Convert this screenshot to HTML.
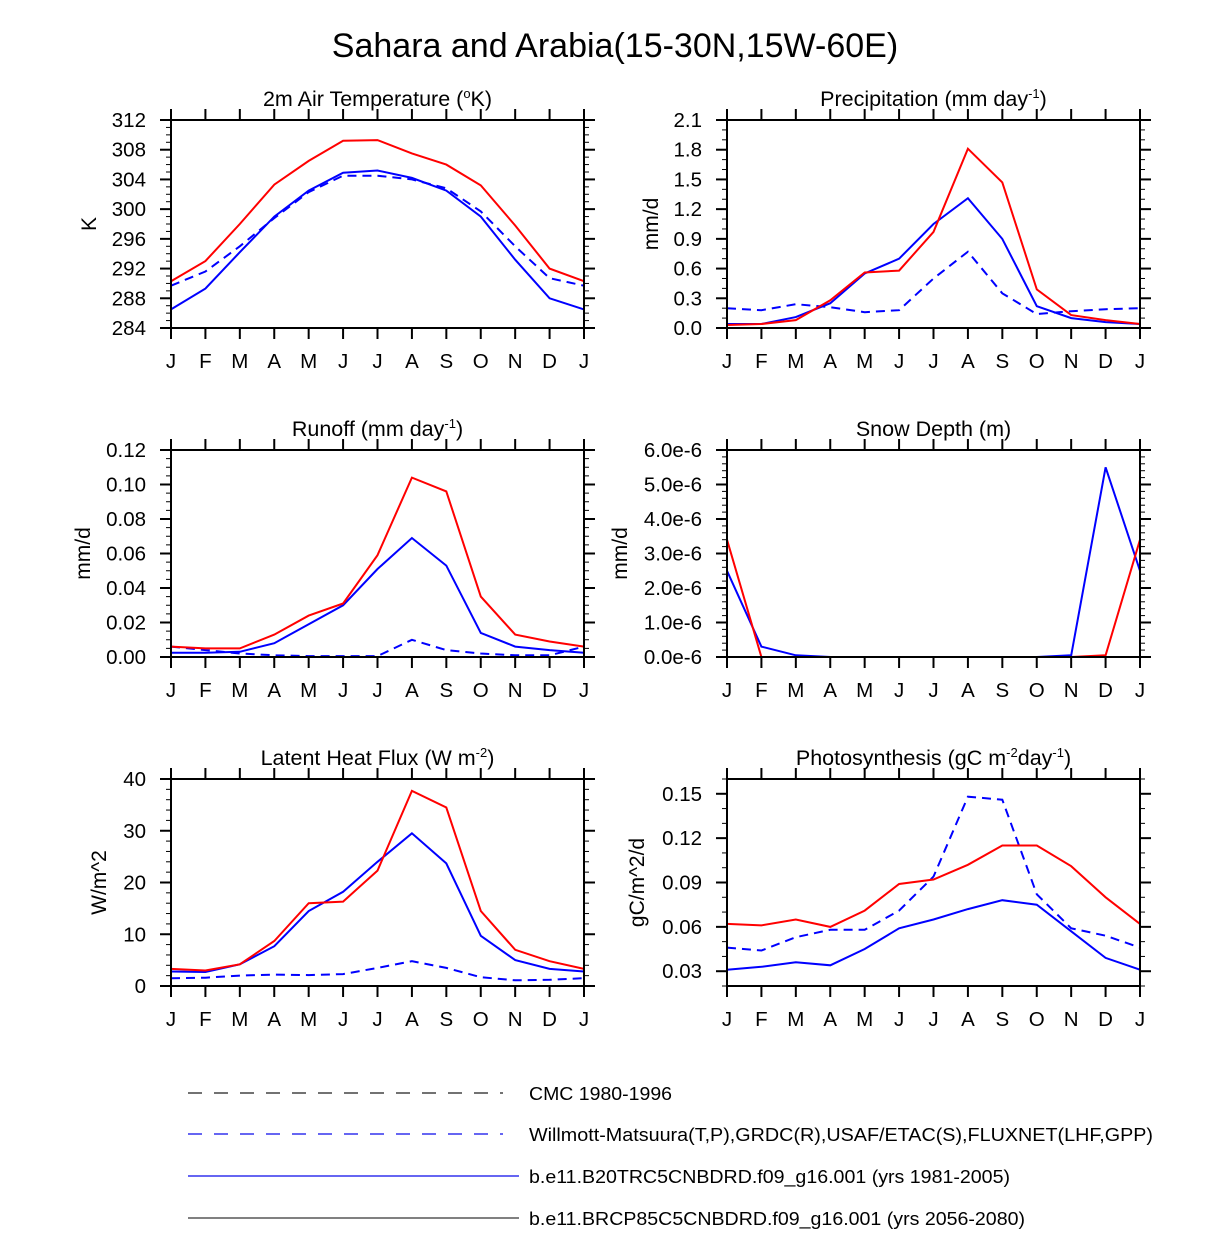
<!DOCTYPE html>
<html><head><meta charset="utf-8">
<style>
html,body{margin:0;padding:0;background:#fff;}
svg{display:block;font-family:"Liberation Sans",Arial,sans-serif;}
</style></head>
<body>
<svg id="chart" width="1224" height="1250" viewBox="0 0 1224 1250" xmlns="http://www.w3.org/2000/svg">
<text x="615" y="57" font-size="34" text-anchor="middle">Sahara and Arabia(15-30N,15W-60E)</text>
<g id="panels"></g>
<g id="legend">
  <line x1="188" y1="1093" x2="503" y2="1093" stroke="#444" stroke-width="1.5" stroke-dasharray="14,12"/>
  <text x="529" y="1100" font-size="18" textLength="143" lengthAdjust="spacingAndGlyphs">CMC 1980-1996</text>
  <line x1="188" y1="1134" x2="503" y2="1134" stroke="#3333ee" stroke-width="1.5" stroke-dasharray="14,12"/>
  <text x="529" y="1141" font-size="18" textLength="624" lengthAdjust="spacingAndGlyphs">Willmott-Matsuura(T,P),GRDC(R),USAF/ETAC(S),FLUXNET(LHF,GPP)</text>
  <line x1="188" y1="1176" x2="519" y2="1176" stroke="#3333ee" stroke-width="1.5"/>
  <text x="529" y="1183" font-size="18" textLength="481" lengthAdjust="spacingAndGlyphs">b.e11.B20TRC5CNBDRD.f09_g16.001 (yrs 1981-2005)</text>
  <line x1="188" y1="1218" x2="519" y2="1218" stroke="#000" stroke-width="1"/>
  <text x="529" y="1225" font-size="18" textLength="496" lengthAdjust="spacingAndGlyphs">b.e11.BRCP85C5CNBDRD.f09_g16.001 (yrs 2056-2080)</text>
</g>
</svg>
<script>
const months = ["J","F","M","A","M","J","J","A","S","O","N","D","J"];

const tempRcp = [290.3,293,298,303.3,306.5,309.2,309.3,307.5,306,303.2,297.8,292,290.3];
const tempHist = [286.5,289.3,294.2,299,302.5,304.9,305.2,304.2,302.5,299,293.2,288,286.5];
const tempObs = [289.7,291.6,295,298.8,302.3,304.5,304.5,304,302.8,299.7,295,290.7,289.7];
const tempTicks = ["284","288","292","296","300","304","308","312"];

const precRcp = [0.03,0.04,0.08,0.28,0.56,0.58,0.97,1.81,1.47,0.39,0.13,0.08,0.04];
const precHist = [0.04,0.04,0.11,0.25,0.55,0.70,1.05,1.31,0.90,0.22,0.10,0.06,0.04];
const precObs = [0.20,0.18,0.24,0.21,0.16,0.18,0.50,0.77,0.35,0.14,0.17,0.19,0.20];
const precTicks = ["0.0","0.3","0.6","0.9","1.2","1.5","1.8","2.1"];

const runRcp = [0.006,0.005,0.005,0.013,0.024,0.031,0.059,0.104,0.096,0.035,0.013,0.009,0.006];
const runHist = [0.0025,0.0025,0.003,0.008,0.019,0.030,0.051,0.069,0.053,0.014,0.006,0.004,0.0025];
const runObs = [0.006,0.004,0.002,0.001,0.0005,0.0005,0.0005,0.010,0.004,0.002,0.001,0.001,0.006];
const runTicks = ["0.00","0.02","0.04","0.06","0.08","0.10","0.12"];

const snowRcp = [3.4,0,0,0,0,0,0,0,0,0,0,0.05,3.4];
const snowHist = [2.5,0.3,0.05,0,0,0,0,0,0,0,0.05,5.5,2.5];
const snowObs = [0,0,0,0,0,0,0,0,0,0,0,0,0];
const snowTicks = ["0.0e-6","1.0e-6","2.0e-6","3.0e-6","4.0e-6","5.0e-6","6.0e-6"];

const lhfRcp = [3.3,3.0,4.2,8.7,16,16.3,22.3,37.7,34.5,14.5,7,4.8,3.3];
const lhfHist = [2.8,2.7,4.2,7.7,14.5,18.2,24,29.5,23.7,9.7,5,3.3,2.8];
const lhfObs = [1.5,1.6,2.0,2.2,2.1,2.3,3.5,4.8,3.5,1.7,1.1,1.2,1.5];
const lhfTicks = ["0","10","20","30","40"];

const gppRcp = [0.062,0.061,0.065,0.060,0.071,0.089,0.092,0.102,0.115,0.115,0.101,0.080,0.062];
const gppHist = [0.031,0.033,0.036,0.034,0.045,0.059,0.065,0.072,0.078,0.075,0.057,0.039,0.031];
const gppObs = [0.046,0.044,0.053,0.058,0.058,0.071,0.094,0.148,0.146,0.082,0.059,0.054,0.046];
const gppTicks = ["0.03","0.06","0.09","0.12","0.15"];

const NS = "http://www.w3.org/2000/svg";
const root = document.getElementById("panels");
function mk(tag, attrs, parent){
  const e = document.createElementNS(NS, tag);
  for (const k in attrs) e.setAttribute(k, attrs[k]);
  parent.appendChild(e);
  return e;
}

function panel(cfg){
  const g = mk("g", {}, root);
  
  
  const {x0,x1,y0,y1,min,max} = cfg;
  const xs = i => x0 + (x1-x0)*i/12;
  const ys = v => y1 - (v-min)/(max-min)*(y1-y0);
  for (let v=min; v<=max+1e-9; v+=cfg.minor){
    const y = ys(v);
    mk("line",{x1:x0-5,y1:y,x2:x0,y2:y,stroke:"#000","stroke-width":1},g);
    mk("line",{x1:x1,y1:y,x2:x1+5,y2:y,stroke:"#000","stroke-width":1},g);
  }
  cfg.ticks.forEach((t,i)=>{
    const v = cfg.tickStart + i*cfg.major;
    const y = ys(v);
    mk("line",{x1:x0-11,y1:y,x2:x0,y2:y,stroke:"#000","stroke-width":2},g);
    mk("line",{x1:x1,y1:y,x2:x1+11,y2:y,stroke:"#000","stroke-width":2},g);
    const tx = mk("text",{x:x0-25,y:y+7,"font-size":20.5,"text-anchor":"end"},g);
    tx.textContent = t;
    
    
  });
  months.forEach((m,i)=>{
    const x = xs(i);
    mk("line",{x1:x,y1:y0-11,x2:x,y2:y0,stroke:"#000","stroke-width":2},g);
    mk("line",{x1:x,y1:y1,x2:x,y2:y1+11,stroke:"#000","stroke-width":2},g);
    const tx = mk("text",{x:x,y:y1+40,"font-size":20.5,"text-anchor":"middle"},g);
    tx.textContent = m;
    
    
  });
  const series = [
    [cfg.obs,"#0000ff","9,6","obs"],
    [cfg.hist,"#0000ff","","hist"],
    [cfg.rcp,"#ff0000","","rcp"]
  ];
  series.forEach(([arr,col,dash,nm])=>{
    const pts = arr.map((v,i)=>xs(i).toFixed(1)+","+ys(v).toFixed(1)).join(" ");
    const p = mk("polyline",{points:pts,fill:"none",stroke:col,"stroke-width":2,"stroke-dasharray":dash||"none","stroke-linejoin":"miter"},g);
    
    
  });
  mk("rect",{x:x0,y:y0,width:x1-x0,height:y1-y0,fill:"none",stroke:"#000","stroke-width":2},g);
  const title = mk("text",{x:(x0+x1)/2,y:y0-14,"font-size":21.5,"text-anchor":"middle"},g);
  title.innerHTML = cfg.title;
  
  
  const yl = mk("text",{x:0,y:0,"font-size":21,"text-anchor":"middle",transform:`translate(${cfg.ylx},${(y0+y1)/2}) rotate(-90)`},g);
  yl.textContent = cfg.ylabel;
  
  
}

const L=[171,584], R=[727,1140];
panel({name:"panel-temperature",x0:L[0],x1:L[1],y0:120,y1:328,min:284,max:312,major:4,minor:1,tickStart:284,ticks:tempTicks,
  rcp:tempRcp,hist:tempHist,obs:tempObs,title:'2m Air Temperature (<tspan dy="-8" font-size="13">o</tspan><tspan dy="8">K)</tspan>',ylabel:"K",ylx:96});
panel({name:"panel-precipitation",x0:R[0],x1:R[1],y0:120,y1:328,min:0,max:2.1,major:0.3,minor:0.1,tickStart:0,ticks:precTicks,
  rcp:precRcp,hist:precHist,obs:precObs,title:'Precipitation (mm day<tspan dy="-8" font-size="13">-1</tspan><tspan dy="8">)</tspan>',ylabel:"mm/d",ylx:658});
panel({name:"panel-runoff",x0:L[0],x1:L[1],y0:450,y1:657,min:0,max:0.12,major:0.02,minor:0.005,tickStart:0,ticks:runTicks,
  rcp:runRcp,hist:runHist,obs:runObs,title:'Runoff (mm day<tspan dy="-8" font-size="13">-1</tspan><tspan dy="8">)</tspan>',ylabel:"mm/d",ylx:90});
panel({name:"panel-snow-depth",x0:R[0],x1:R[1],y0:450,y1:657,min:0,max:6,major:1,minor:0.2,tickStart:0,ticks:snowTicks,
  rcp:snowRcp,hist:snowHist,obs:snowObs,title:'Snow Depth (m)',ylabel:"mm/d",ylx:627});
panel({name:"panel-latent-heat",x0:L[0],x1:L[1],y0:779,y1:986,min:0,max:40,major:10,minor:2,tickStart:0,ticks:lhfTicks,
  rcp:lhfRcp,hist:lhfHist,obs:lhfObs,title:'Latent Heat Flux (W m<tspan dy="-8" font-size="13">-2</tspan><tspan dy="8">)</tspan>',ylabel:"W/m^2",ylx:106});
panel({name:"panel-photosynthesis",x0:R[0],x1:R[1],y0:779,y1:986,min:0.02,max:0.16,major:0.03,minor:0.01,tickStart:0.03,ticks:gppTicks,
  rcp:gppRcp,hist:gppHist,obs:gppObs,title:'Photosynthesis (gC m<tspan dy="-8" font-size="13">-2</tspan><tspan dy="8">day</tspan><tspan dy="-8" font-size="13">-1</tspan><tspan dy="8">)</tspan>',ylabel:"gC/m^2/d",ylx:644});
</script>
</body></html>
